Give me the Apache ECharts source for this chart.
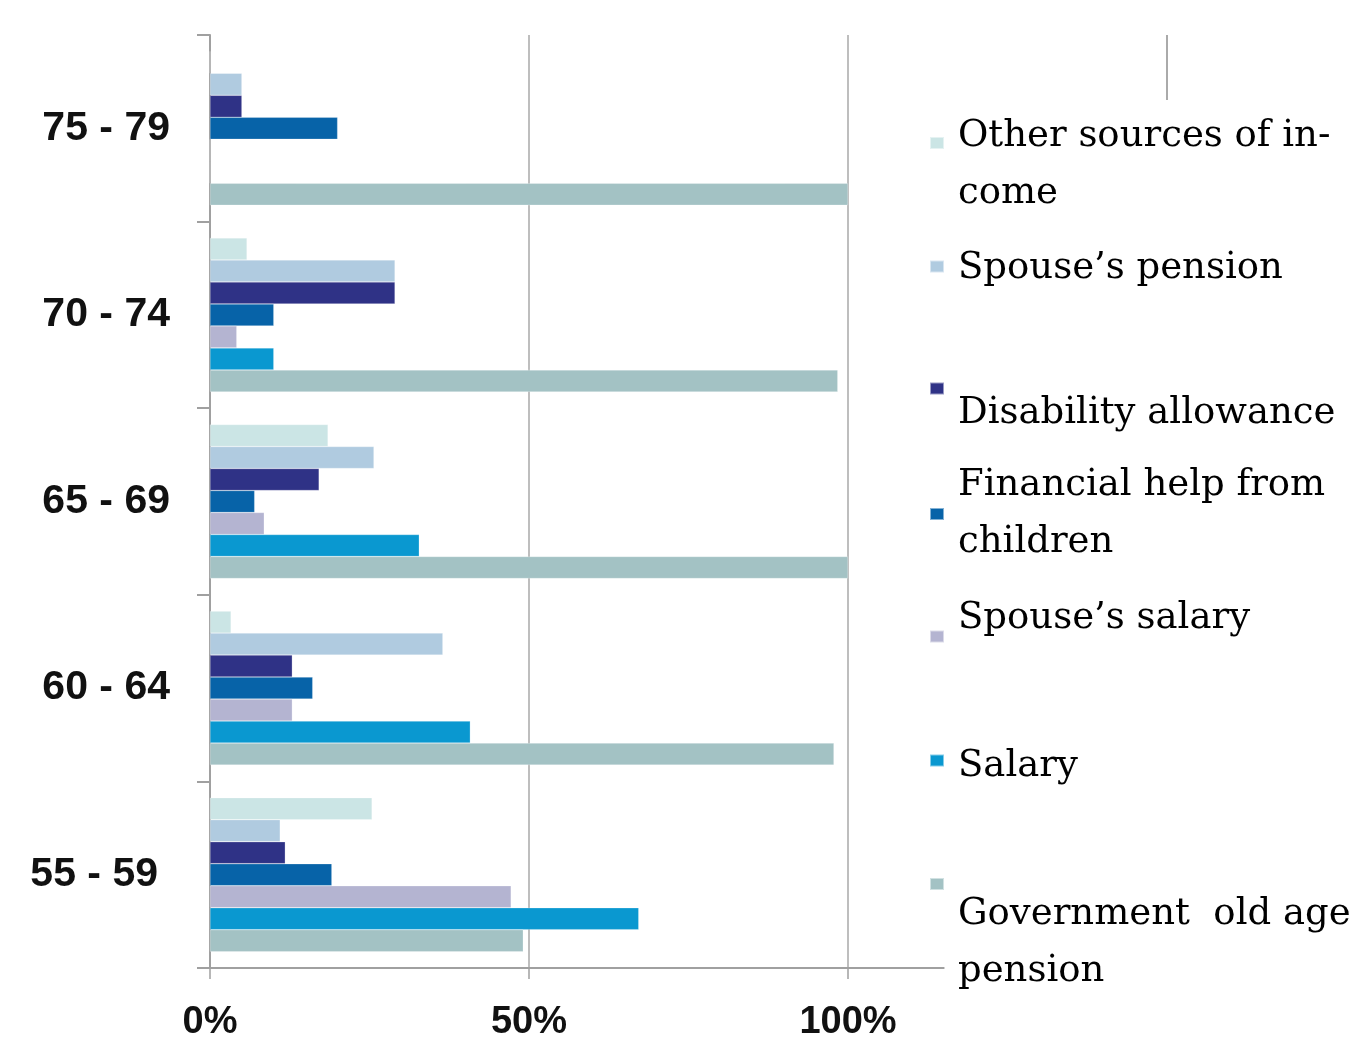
<!DOCTYPE html>
<html>
<head>
<meta charset="utf-8">
<script src="https://cdn.jsdelivr.net/npm/echarts@6/dist/echarts.min.js"></script>
<style>html,body{margin:0;padding:0;background:#fff}#chart{width:1352px;height:1045px}</style>
</head>
<body>
<div id="chart"></div>
<script>
// Categories (bottom to top)
const categories = ['55 - 59', '60 - 64', '65 - 69', '70 - 74', '75 - 79'];
// Series values in %, same order as categories
const otherSources = [25.4, 3.3, 18.5, 5.8, 0];
const spousePension = [11, 36.5, 25.7, 29, 5];
const disability = [11.8, 12.9, 17.1, 29, 5];
const financialHelp = [19.1, 16.1, 7, 10, 20];
const spouseSalary = [47.2, 12.9, 8.5, 4.2, 0];
const salary = [67.2, 40.8, 32.8, 10, 0];
const governmentPension = [49.1, 97.8, 100, 98.4, 100];
const xTicks = [0, 50, 100];

// series order: first drawn at top of each band
const seriesDefs = [
  {name: 'Other sources of income', lines: ['Other sources of in-', 'come'], data: otherSources, color: '#cbe5e5'},
  {name: 'Spouse’s pension', lines: ['Spouse’s pension'], data: spousePension, color: '#b0cbe0'},
  {name: 'Disability allowance', lines: ['Disability allowance'], data: disability, color: '#2f3286'},
  {name: 'Financial help from children', lines: ['Financial help from', 'children'], data: financialHelp, color: '#0763a8'},
  {name: 'Spouse’s salary', lines: ['Spouse’s salary'], data: spouseSalary, color: '#b4b4d1'},
  {name: 'Salary', lines: ['Salary'], data: salary, color: '#0a98d0'},
  {name: 'Government  old age pension', lines: ['Government  old age', 'pension'], data: governmentPension, color: '#a3c2c4'}
];

// legend layout: [series index, legend top, spacer before text, spacer after text]
const legendLayout = [
  [0, 85, 44, 0],
  [1, 237, 4, 0],
  [2, 359, 50, 0],
  [3, 467, 0, 0],
  [4, 600, 0, 36],
  [5, 731, 12, 0],
  [6, 826, 118, 0]
];
const LH = 57;
const serifFont = '"DejaVu Serif", Georgia, serif';

function legendFor(idx, top, before, after) {
  const s = seriesDefs[idx];
  const parts = s.lines.map(l => '{t|' + l + '}');
  if (before) parts.unshift('{a| }');
  if (after) parts.push('{b| }');
  return {
    data: [s.name],
    left: 929, top: top, orient: 'vertical', padding: 0,
    itemWidth: 14, itemHeight: 12, icon: 'rect', selectedMode: false,
    formatter: () => parts.join('\n'),
    textStyle: {
      fontFamily: serifFont, fontSize: 37, color: '#000', padding: [0, 0, 0, 9],
      rich: {
        t: {fontFamily: serifFont, fontSize: 37, color: '#000', lineHeight: LH},
        a: {fontSize: 2, lineHeight: before || 1},
        b: {fontSize: 2, lineHeight: after || 1}
      }
    }
  };
}

const chart = echarts.init(document.getElementById('chart'));
chart.setOption({
  animation: false,
  backgroundColor: '#fff',
  grid: {left: 210, top: 35, bottom: 77, width: 733.7, containLabel: false},
  xAxis: {
    type: 'value', min: 0, max: 115, interval: 50,
    axisLine: {show: true, lineStyle: {color: '#a0a0a0', width: 2}},
    axisTick: {show: true, length: 11, lineStyle: {color: '#a0a0a0', width: 1.5}},
    axisLabel: {
      margin: 36, fontFamily: '"Liberation Sans", Arial, sans-serif', fontWeight: 'bold', fontSize: 38, color: '#111',
      formatter: v => xTicks.includes(v) ? v + '%' : '', showMaxLabel: false
    },
    splitLine: {show: true, showMinLine: false, showMaxLine: false, lineStyle: {color: '#a8a8a8', width: 1.5}}
  },
  yAxis: {
    type: 'category', data: categories,
    axisLine: {show: true, lineStyle: {color: '#a0a0a0', width: 2}},
    axisTick: {show: true, length: 13, lineStyle: {color: '#a0a0a0', width: 2}},
    axisLabel: {
      margin: 40, fontFamily: '"Liberation Sans", Arial, sans-serif', fontWeight: 'bold', fontSize: 41, color: '#111',
      formatter: v => v === '55 - 59' ? '{o|' + v + '}' : v,
      rich: {o: {fontFamily: '"Liberation Sans", Arial, sans-serif', fontWeight: 'bold', fontSize: 41, color: '#111', padding: [0, 12, 0, 0]}}
    }
  },
  legend: legendLayout.map(([idx, top, b, a]) => legendFor(idx, top, b, a)),
  series: seriesDefs.map(s => ({
    name: s.name, type: 'bar', data: s.data,
    barWidth: 22, barGap: '0%',
    itemStyle: {color: s.color, borderColor: 'rgba(255,255,255,0.5)', borderWidth: 0.5}
  })),
  graphic: [{
    type: 'line', shape: {x1: 1167, y1: 35, x2: 1167, y2: 100},
    style: {stroke: '#aaaaaa', lineWidth: 2}
  }]
});
</script>
</body>
</html>
